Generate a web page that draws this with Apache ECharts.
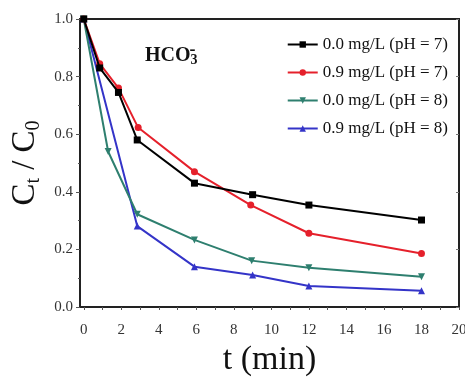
<!DOCTYPE html>
<html>
<head>
<meta charset="utf-8">
<script src="https://cdn.jsdelivr.net/npm/echarts@6/dist/echarts.min.js"></script>
<style>
html,body{margin:0;padding:0;background:#fff;}
#main{width:465px;height:380px;}
</style>
</head>
<body>
<div id="main"></div>
<script>
// data
var names = ['0.0 mg/L (pH = 7)', '0.9 mg/L (pH = 7)', '0.0 mg/L (pH = 8)', '0.9 mg/L (pH = 8)'];
var t1 = [0, 0.85, 1.85, 2.85, 5.9, 9.0, 12.0, 18.0];
var c1 = [1.0, 0.83, 0.745, 0.58, 0.43, 0.39, 0.354, 0.302];
var t2 = [0, 0.85, 1.85, 2.9, 5.9, 8.9, 12.0, 18.0];
var c2 = [1.0, 0.845, 0.76, 0.623, 0.47, 0.354, 0.256, 0.186];
var t3 = [0, 1.3, 2.85, 5.9, 8.95, 12.0, 18.0];
var c3 = [1.0, 0.54, 0.322, 0.233, 0.161, 0.136, 0.105];
var t4 = [0, 2.85, 5.9, 9.0, 12.0, 18.0];
var c4 = [1.0, 0.281, 0.14, 0.111, 0.073, 0.056];
var xLabels = [0, 2, 4, 6, 8, 10, 12, 14, 16, 18, 20];
var xTicks = [0, 1, 2, 3, 4, 5, 6, 7, 8, 9, 10, 11, 12, 13, 14, 15, 16, 17, 18, 19, 20];

var serif = '"Liberation Serif", "DejaVu Serif", serif';
var colors = ['#000000', '#e5202b', '#2e7f6f', '#3434c8'];
var symbols = ['rect', 'circle', 'triangle', 'triangle'];
var rotates = [0, 0, 180, 0];

function pairs(t, c) {
    var out = [];
    for (var i = 0; i < t.length; i++) out.push([t[i], c[i]]);
    return out;
}
var allData = [pairs(t1, c1), pairs(t2, c2), pairs(t3, c3), pairs(t4, c4)];

var myChart = echarts.init(document.getElementById('main'));

var series = [];
for (var i = 0; i < 4; i++) {
    series.push({
        name: names[i],
        type: 'line',
        data: allData[i],
        symbol: symbols[i],
        symbolRotate: rotates[i],
        symbolSize: 7,
        showSymbol: true,
        color: colors[i],
        lineStyle: {width: 2, color: colors[i]},
        itemStyle: {color: colors[i]},
        z: 10 - i
    });
}

var option = {
    animation: false,
    grid: {left: 80, top: 19, right: 6, bottom: 73, show: true, borderColor: '#222', borderWidth: 2,
        containLabel: false, outerBoundsMode: 'none'},
    legend: {
        orient: 'vertical',
        right: 12,
        top: 31,
        itemGap: 11,
        itemWidth: 30,
        itemHeight: 8,
        data: names,
        textStyle: {fontFamily: serif, fontSize: 17, color: '#111'}
    },
    xAxis: {
        type: 'value',
        min: -0.2,
        max: 20,
        name: 't (min)',
        nameLocation: 'middle',
        nameGap: 33,
        nameTextStyle: {fontFamily: serif, fontSize: 34, color: '#111'},
        axisLine: {show: true, onZero: false, lineStyle: {color: '#222', width: 2}},
        axisTick: {show: true, inside: false, length: 3, customValues: xTicks, lineStyle: {color: '#555'}},
        axisLabel: {customValues: xLabels, fontFamily: serif, fontSize: 15, color: '#333', margin: 16},
        splitLine: {show: false}
    },
    yAxis: [{
        type: 'value',
        min: 0,
        max: 1,
        interval: 0.2,
        name: '{c|C}{s|t}{c| / C}{s|0}',
        nameLocation: 'middle',
        nameGap: 34,
        nameRotate: 90,
        nameTextStyle: {
            rich: {
                c: {fontFamily: serif, fontSize: 33, color: '#111'},
                s: {fontFamily: serif, fontSize: 20, color: '#111', verticalAlign: 'bottom', padding: [16, 0, 0, 0]}
            }
        },
        axisLine: {show: true, onZero: false, lineStyle: {color: '#222', width: 2}},
        axisTick: {show: true, inside: false, length: 4, lineStyle: {color: '#555'}},
        minorTick: {show: true, splitNumber: 2, length: 2, lineStyle: {color: '#555'}},
        axisLabel: {
            fontFamily: serif, fontSize: 15, color: '#333', margin: 7,
            formatter: function (v) { return v.toFixed(1); }
        },
        splitLine: {show: false}
    }, {
        type: 'value',
        position: 'right',
        min: 0,
        max: 1,
        interval: 0.2,
        axisLine: {show: true, onZero: false, lineStyle: {color: '#222', width: 2}},
        axisTick: {show: true, inside: true, length: 3, lineStyle: {color: '#777'}},
        axisLabel: {show: false},
        splitLine: {show: false}
    }],
    graphic: [{
        type: 'text',
        left: 145,
        top: 41,
        style: {
            text: '{b|HCO}{sub|3}{sup|-}',
            rich: {
                b: {fontFamily: serif, fontSize: 20, fontWeight: 'bold', fill: '#111'},
                sub: {fontFamily: serif, fontSize: 14, fontWeight: 'bold', fill: '#111', padding: [8, 0, 0, 0]},
                sup: {fontFamily: serif, fontSize: 18, fontWeight: 'bold', fill: '#111', padding: [0, 0, 12, -8]}
            }
        }
    }],
    series: series
};

myChart.setOption(option);
</script>
</body>
</html>
